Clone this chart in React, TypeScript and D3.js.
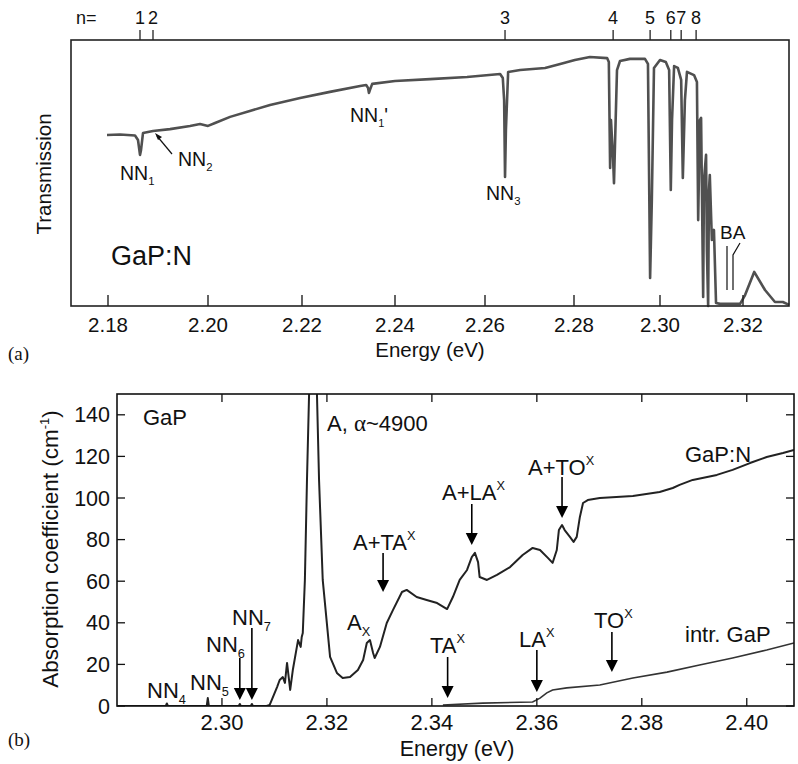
import React from "react";
import * as d3 from "d3";

// ---------- DATA ----------
// Panel (a): transmission of GaP:N vs energy (arbitrary units 0..1)
const transE = [2.1798,2.1824,2.1854,2.1860,2.1864,2.1866,2.1870,2.1890,2.1924,2.1964,2.1984,2.2000,2.2015,2.2047,2.2089,2.2132,2.2196,2.2260,2.2325,2.2338,2.2342,2.2344,2.2346,2.2351,2.2400,2.2478,2.2560,2.2634,2.2640,2.2643,2.2645,2.2647,2.2652,2.2679,2.2735,2.2769,2.2802,2.2837,2.2877,2.2881,2.2884,2.2886,2.2891,2.2893,2.2895,2.2900,2.2907,2.2930,2.2965,2.2972,2.2977,2.2981,2.2986,2.3000,2.3014,2.3022,2.3026,2.3029,2.3034,2.3043,2.3051,2.3055,2.3060,2.3065,2.3082,2.3089,2.3092,2.3096,2.3099,2.3104,2.3106,2.3111,2.3113,2.3116,2.3118,2.3120,2.3125,2.3130,2.3135,2.3145,2.3193,2.3205,2.3227,2.3253,2.3277,2.3296,2.3311];
const transT = [0.643,0.645,0.641,0.624,0.568,0.586,0.650,0.658,0.665,0.677,0.684,0.677,0.688,0.711,0.733,0.756,0.782,0.805,0.827,0.831,0.820,0.801,0.812,0.835,0.846,0.853,0.861,0.872,0.857,0.774,0.485,0.662,0.880,0.887,0.895,0.910,0.925,0.936,0.932,0.917,0.519,0.699,0.549,0.462,0.586,0.887,0.921,0.929,0.929,0.910,0.105,0.398,0.895,0.925,0.917,0.887,0.436,0.699,0.902,0.895,0.850,0.481,0.774,0.880,0.868,0.842,0.323,0.699,0.707,0.034,0.474,0.568,0.211,0.0,0.436,0.492,0.248,0.286,0.011,0.008,0.008,0.041,0.128,0.060,0.015,0.015,0.004];
const topTicks = [2.18,2.20,2.22,2.24,2.26,2.28,2.30,2.32];
const nLabels = ["1","2","3","4","5","6","7","8"];
const nEnergies = [2.1864,2.1890,2.2645,2.2891,2.2977,2.3026,2.3051,2.3087];

// Panel (b): absorption coefficient (cm^-1)
const gapnE = [2.2800,2.2893,2.2895,2.2897,2.2971,2.2973,2.2975,2.3032,2.3034,2.3036,2.3055,2.3057,2.3059,2.3085,2.3091,2.3105,2.3110,2.3116,2.3120,2.3124,2.3130,2.3135,2.3145,2.3150,2.3152,2.3154,2.3158,2.3162,2.3166,2.3170,2.3173,2.3177,2.3181,2.3185,2.3192,2.3206,2.3219,2.3230,2.3244,2.3259,2.3269,2.3276,2.3282,2.3288,2.3291,2.3301,2.3314,2.3326,2.3343,2.3352,2.3371,2.3390,2.3410,2.3429,2.3440,2.3453,2.3467,2.3476,2.3482,2.3488,2.3491,2.3505,2.3524,2.3549,2.3573,2.3592,2.3606,2.3621,2.3630,2.3638,2.3642,2.3648,2.3653,2.3663,2.3670,2.3676,2.3682,2.3688,2.3697,2.3720,2.3783,2.3834,2.3859,2.3872,2.3897,2.3943,2.3973,2.4006,2.4038,2.4069,2.4090];
const gapnA = [0,0,1.2,0,0,3.8,0,0,1,0,0,1,0,0,0.5,9.1,12.5,13.9,11.1,20.7,7.7,17.3,31.7,28.4,33.2,35.1,60.6,108.7,150,175,180,175,150,108.7,60.6,23.6,15.9,13.5,13.9,17.3,22.1,30.3,31.7,25.5,23.1,28.4,39.9,46.2,54.8,55.8,52.4,51.0,49.5,46.6,52.4,60.6,65.4,71.6,73.6,69.2,62.0,60.6,63.0,66.8,72.6,76.0,75.0,71.2,68.8,75.0,84.6,87.0,84.6,81.3,78.9,81.3,90.9,97.6,99.0,100.0,101.0,102.9,104.8,106.3,108.7,111.1,113.5,116.8,119.7,121.6,123.1];
const intrE = [2.3421,2.3497,2.3592,2.3606,2.3619,2.3630,2.3657,2.3720,2.3783,2.3848,2.3910,2.3973,2.4038,2.4090];
const intrA = [0.5,1.4,1.9,3.8,6.3,7.7,8.7,10.1,13.5,16.3,19.7,23.1,26.9,30.3];
const botXTicks = [2.30,2.32,2.34,2.36,2.38,2.40];
const botYTicks = [0,20,40,60,80,100,120,140];

// ---------- LAYOUT ----------
const A = { l: 71, r: 789, t: 40, b: 306 };
const B = { l: 117, r: 794, t: 394, b: 706 };
const topAxisCalib = [108, 208, 302, 395, 485, 574, 660, 743];
const SANS = "'Liberation Sans', Arial, Helvetica, sans-serif";
const SERIF = "'Liberation Serif', 'DejaVu Serif', serif";

const xA = d3.scaleLinear().domain(topTicks).range(topAxisCalib);
const yA = d3.scaleLinear().domain([0, 1]).range([A.b, A.t]);
const xB = d3.scaleLinear().domain([2.28, 2.409]).range([B.l, B.r]);
const yB = d3.scaleLinear().domain([0, 150]).range([B.b, B.t]);

const lineA = d3.line<number>().x((d, i) => xA(transE[i])).y((d) => yA(d));
const lineG = d3.line<number>().x((d, i) => xB(gapnE[i])).y((d) => yB(d));
const lineI = d3.line<number>().x((d, i) => xB(intrE[i])).y((d) => yB(d));

function DownArrow({ x, y1, y2 }: { x: number; y1: number; y2: number }) {
  const h = 12, w = 6;
  return (
    <g>
      <line x1={x} x2={x} y1={y1} y2={y2 - h + 1} stroke="#000" strokeWidth={1.6} />
      <path d={`M${x - w},${y2 - h} L${x + w},${y2 - h} L${x},${y2} Z`} fill="#000" />
    </g>
  );
}

function Lbl({ x, y, main, sub, sup, size = 20, anchor = "start" }: any) {
  return (
    <text x={x} y={y} fontSize={size} fontFamily={SANS} textAnchor={anchor} fill="#111">
      {main}
      {sub && <tspan fontSize={size * 0.58} dy={size * 0.25}>{sub}</tspan>}
      {sup && <tspan fontSize={size * 0.58} dy={-size * 0.45}>{sup}</tspan>}
    </text>
  );
}

export default function App() {
  return (
    <svg width={798} height={764} style={{ position: "absolute", left: 0, top: 0, background: "#fff" }}>
      <rect width={798} height={764} fill="#fff" />
      {/* ===== Panel (a) ===== */}
      <path d={lineA(transT) || ""} fill="none" stroke="#505050" strokeWidth={2.6} strokeLinejoin="round" />
      <rect x={A.l} y={A.t} width={A.r - A.l} height={A.b - A.t} fill="none" stroke="#222" strokeWidth={1.6} />
      {topTicks.map((t) => (
        <g key={t}>
          <line x1={xA(t)} x2={xA(t)} y1={A.b} y2={A.b - 11} stroke="#222" strokeWidth={1.4} />
          <text x={xA(t)} y={332} fontSize={20.5} fontFamily={SANS} textAnchor="middle" fill="#111">{t.toFixed(2)}</text>
        </g>
      ))}
      <text x={76} y={24} fontSize={18} fontFamily={SANS} fill="#111">n=</text>
      {nEnergies.map((e, i) => (
        <g key={i}>
          <line x1={xA(e)} x2={xA(e)} y1={A.t} y2={A.t - 10} stroke="#222" strokeWidth={1.3} />
          <text x={xA(e)} y={24} fontSize={18} fontFamily={SANS} textAnchor="middle" fill="#111">{nLabels[i]}</text>
        </g>
      ))}
      <text x={430} y={357} fontSize={20.5} fontFamily={SANS} textAnchor="middle" fill="#111">Energy (eV)</text>
      <text transform="translate(51,174) rotate(-90)" fontSize={20.5} fontFamily={SANS} textAnchor="middle" fill="#111">Transmission</text>
      <text x={111} y={265} fontSize={27} fontFamily={SANS} fill="#111">GaP:N</text>
      <Lbl x={120} y={180} main="NN" sub="1" size={19.5} />
      <Lbl x={178} y={166} main="NN" sub="2" size={19.5} />
      <line x1={172} y1={154} x2={157} y2={136} stroke="#111" strokeWidth={1.2} />
      <path d="M155,133 L162,137 L158,140 Z" fill="#111" />
      <text x={350} y={122} fontSize={19.5} fontFamily={SANS} fill="#111">NN<tspan fontSize={11} dy={5}>1</tspan><tspan dy={-5}>'</tspan></text>
      <Lbl x={486} y={200} main="NN" sub="3" size={19.5} />
      <text x={720} y={239} fontSize={19} fontFamily={SANS} fill="#111">BA</text>
      <line x1={727} x2={727} y1={246} y2={290} stroke="#111" strokeWidth={1.2} />
      <path d="M740,243 L733,255 L733,290" fill="none" stroke="#111" strokeWidth={1.2} />
      <text x={8} y={360} fontSize={19} fontFamily={SERIF} fill="#111">(a)</text>

      {/* ===== Panel (b) ===== */}
      <defs>
        <clipPath id="clipB">
          <rect x={B.l} y={B.t} width={B.r - B.l} height={B.b - B.t} />
        </clipPath>
      </defs>
      <g clipPath="url(#clipB)">
        <path d={lineG(gapnA) || ""} fill="none" stroke="#222" strokeWidth={2} strokeLinejoin="round" />
        <path d={lineI(intrA) || ""} fill="none" stroke="#333" strokeWidth={1.6} />
      </g>
      <rect x={B.l} y={B.t} width={B.r - B.l} height={B.b - B.t} fill="none" stroke="#111" strokeWidth={1.6} />
      {botXTicks.map((t) => (
        <g key={t}>
          <line x1={xB(t)} x2={xB(t)} y1={B.b} y2={B.b - 8} stroke="#111" strokeWidth={1.3} />
          <line x1={xB(t)} x2={xB(t)} y1={B.t} y2={B.t + 8} stroke="#111" strokeWidth={1.3} />
          <text x={xB(t)} y={730} fontSize={22} fontFamily={SANS} textAnchor="middle" fill="#111">{t.toFixed(2)}</text>
        </g>
      ))}
      {botYTicks.map((t) => (
        <g key={t}>
          <line x1={B.l} x2={B.l + 8} y1={yB(t)} y2={yB(t)} stroke="#111" strokeWidth={1.3} />
          <line x1={B.r} x2={B.r - 8} y1={yB(t)} y2={yB(t)} stroke="#111" strokeWidth={1.3} />
          <text x={110} y={yB(t) + 7.5} fontSize={21.5} fontFamily={SANS} textAnchor="end" fill="#111">{t}</text>
        </g>
      ))}
      <text x={457} y={756} fontSize={21.5} fontFamily={SANS} textAnchor="middle" fill="#111">Energy (eV)</text>
      <text transform="translate(58,549) rotate(-90)" fontSize={22.5} fontFamily={SANS} textAnchor="middle" fill="#111">
        Absorption coefficient (cm<tspan fontSize={13} dy={-9}>-1</tspan><tspan dy={9}>)</tspan>
      </text>
      <text x={143} y={425} fontSize={22} fontFamily={SANS} fill="#111">GaP</text>
      <text x={327} y={431} fontSize={22} fontFamily={SANS} fill="#111">A, <tspan fontFamily={SERIF} fontSize={23}>α</tspan>~4900</text>
      <Lbl x={353} y={550} main="A+TA" sup="X" size={22} />
      <DownArrow x={xB(2.3307)} y1={553} y2={592} />
      <Lbl x={347} y={630} main="A" sub="X" size={22} />
      <Lbl x={442} y={500} main="A+LA" sup="X" size={22} />
      <DownArrow x={xB(2.3476)} y1={504} y2={545} />
      <Lbl x={528} y={475} main="A+TO" sup="X" size={22} />
      <DownArrow x={xB(2.3648)} y1={477} y2={518} />
      <text x={685} y={462} fontSize={22} fontFamily={SANS} fill="#111">GaP:N</text>
      <text x={685} y={642} fontSize={22} fontFamily={SANS} fill="#111">intr. GaP</text>
      <Lbl x={430} y={653} main="TA" sup="X" size={22} />
      <DownArrow x={xB(2.3430)} y1={657} y2={698} />
      <Lbl x={519} y={647} main="LA" sup="X" size={22} />
      <DownArrow x={xB(2.3600)} y1={650} y2={692} />
      <Lbl x={594} y={628} main="TO" sup="X" size={22} />
      <DownArrow x={xB(2.3743)} y1={632} y2={672} />
      <Lbl x={147} y={698} main="NN" sub="4" size={22} />
      <Lbl x={190} y={690} main="NN" sub="5" size={22} />
      <Lbl x={206} y={652} main="NN" sub="6" size={22} />
      <DownArrow x={xB(2.3034)} y1={658} y2={700} />
      <Lbl x={232} y={625} main="NN" sub="7" size={22} />
      <DownArrow x={xB(2.3057)} y1={628} y2={700} />
      <text x={8} y={746} fontSize={19} fontFamily={SERIF} fill="#111">(b)</text>
    </svg>
  );
}
